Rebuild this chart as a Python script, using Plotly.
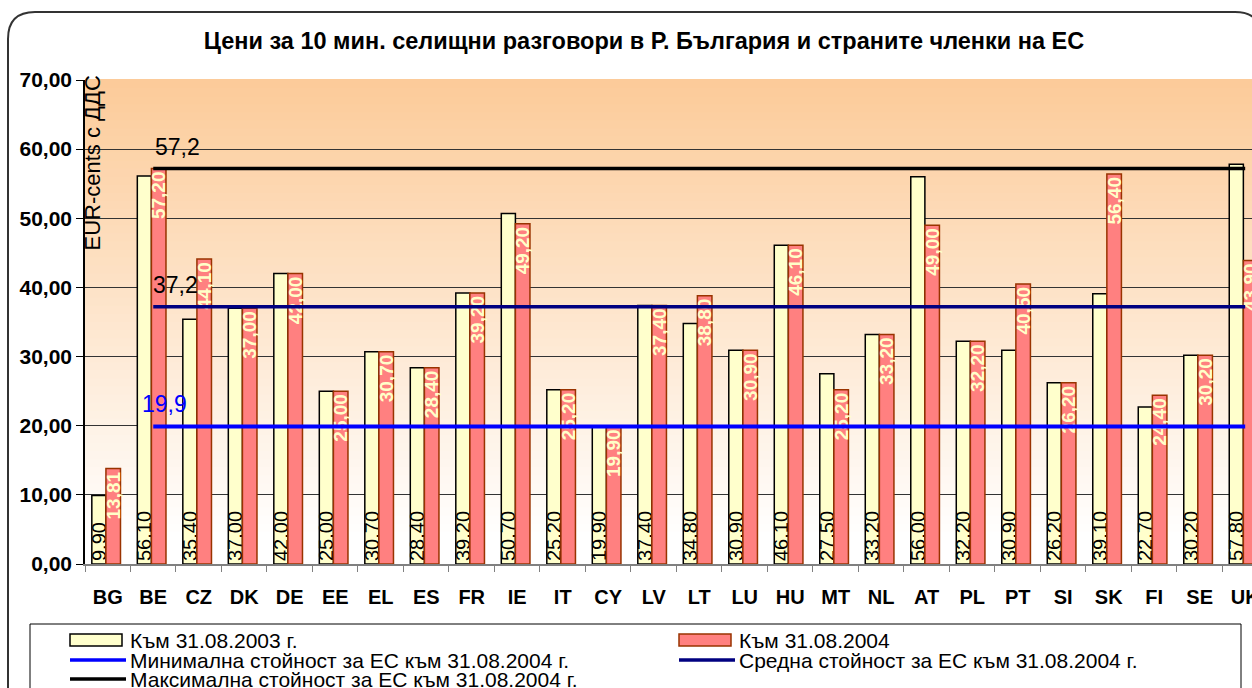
import plotly.graph_objects as go

countries = ["BG", "BE", "CZ", "DK", "DE", "EE", "EL", "ES", "FR", "IE", "IT", "CY", "LV",
             "LT", "LU", "HU", "MT", "NL", "AT", "PL", "PT", "SI", "SK", "FI", "SE", "UK"]
price_2003 = [9.90, 56.10, 35.40, 37.00, 42.00, 25.00, 30.70, 28.40, 39.20, 50.70, 25.20, 19.90, 37.40,
              34.80, 30.90, 46.10, 27.50, 33.20, 56.00, 32.20, 30.90, 26.20, 39.10, 22.70, 30.20, 57.80]
price_2004 = [13.81, 57.20, 44.10, 37.00, 42.00, 25.00, 30.70, 28.40, 39.20, 49.20, 25.20, 19.90, 37.40,
              38.80, 30.90, 46.10, 25.20, 33.20, 49.00, 32.20, 40.50, 26.20, 56.40, 24.40, 30.20, 43.90]
eu_min = 19.9
eu_avg = 37.2
eu_max = 57.2
ref_labels = ["19,9", "37,2", "57,2"]

title = "Цени за 10 мин. селищни разговори в Р. България и страните членки на ЕС"
y_title = "EUR-cents с ДДС"
names = ["Към 31.08.2003 г.", "Към 31.08.2004",
         "Минимална стойност за ЕС към 31.08.2004 г.",
         "Средна стойност за ЕС към 31.08.2004 г.",
         "Максимална стойност за ЕС към 31.08.2004 г."]

FONT = "Arial, Liberation Sans, sans-serif"
W, H = 1252, 688
L, R, T, B = 85, 1252, 80, 564

YELLOW = "#FFFFCC"
RED = "#FF8080"
RED_EDGE = "#993300"
MIN_C, AVG_C, MAX_C = "#0000FF", "#000080", "black"


def px_x(px):
    return (px - L) / (R - L)


def px_y(py):
    return (B - py) / (B - T)


fig = go.Figure()

fig.add_trace(go.Bar(
    x=countries, y=price_2003, name=names[0],
    marker=dict(color=YELLOW, line=dict(color="black", width=1.5)),
    offset=-0.35, width=0.31,
    texttemplate="%{y:.2f}", textposition="inside", insidetextanchor="start",
    textangle=-90, constraintext="none",
    textfont=dict(family=FONT, size=20, color="black"),
))
fig.add_trace(go.Bar(
    x=countries, y=price_2004, name=names[1],
    marker=dict(color=RED, line=dict(color=RED_EDGE, width=1.5)),
    offset=-0.04, width=0.32,
    texttemplate="<b>%{y:.2f}</b>", textposition="inside", insidetextanchor="end",
    textangle=-90, constraintext="none",
    textfont=dict(family=FONT, size=19, color="#FFFFC8"),
))

# reference lines from BE to UK, like in the original
line_x = countries[1:]
for val, color, name, lw in [(eu_min, MIN_C, names[2], 4),
                             (eu_avg, AVG_C, names[3], 3.5),
                             (eu_max, MAX_C, names[4], 3.5)]:
    fig.add_trace(go.Scatter(x=line_x, y=[val] * len(line_x), name=name, mode="lines",
                             line=dict(color=color, width=lw)))

for val, lab, color, xs in zip([eu_min, eu_avg, eu_max], ref_labels,
                               [MIN_C, "black", "black"], [-13, -2, 0]):
    fig.add_annotation(x=countries[1], y=val, text=lab, showarrow=False,
                       xanchor="left", yanchor="bottom", xshift=xs, yshift=7,
                       font=dict(family=FONT, size=23, color=color))

# plot background gradient (orange top -> white)
top_col = (252, 203, 153)
n = 60
for i in range(n):
    f0 = i / n
    f1 = (i + 1) / n
    t = (f0 + f1) / 2
    k = max(0.0, (t - 0.05) / 0.95)
    c = tuple(round(255 + (tc - 255) * k) for tc in top_col)
    fig.add_shape(type="rect", xref="paper", yref="paper", x0=0, x1=1, y0=f0, y1=f1 + 0.002,
                  fillcolor=f"rgb{c}", line_width=0, layer="below")

# outer rounded chart border
x0, y0, x1, y1 = px_x(8), px_y(12), px_x(1262), px_y(720)
rx = 27 / (R - L)
ry = 27 / (B - T)
fig.add_shape(type="path", xref="paper", yref="paper",
              path=(f"M {x0+rx} {y0} L {x1-rx} {y0} Q {x1} {y0} {x1} {y0-ry} "
                    f"L {x1} {y1+ry} Q {x1} {y1} {x1-rx} {y1} L {x0+rx} {y1} "
                    f"Q {x0} {y1} {x0} {y1+ry} L {x0} {y0-ry} Q {x0} {y0} {x0+rx} {y0} Z"),
              line=dict(color="#333333", width=2), layer="below")

fig.add_annotation(xref="paper", yref="paper", x=px_x(92), y=px_y(74), text=y_title,
                   textangle=-90, showarrow=False, xanchor="center", yanchor="top",
                   font=dict(family=FONT, size=22, color="black"))

# legend drawn by hand: box, swatches and texts
fig.add_shape(type="rect", xref="paper", yref="paper",
              x0=px_x(30), x1=px_x(1241), y0=px_y(624), y1=px_y(700),
              line=dict(color="black", width=1), fillcolor="white")
legend_items = [
    (names[0], "bar", YELLOW, "black", 70, 640),
    (names[1], "bar", RED, RED_EDGE, 679, 640),
    (names[2], "line", MIN_C, None, 70, 660),
    (names[3], "line", AVG_C, None, 679, 660),
    (names[4], "line", MAX_C, None, 70, 679),
]
for name, kind, col, edge, lx, ly in legend_items:
    if kind == "bar":
        fig.add_shape(type="rect", xref="paper", yref="paper",
                      x0=px_x(lx), x1=px_x(lx + 52), y0=px_y(ly - 6), y1=px_y(ly + 6),
                      fillcolor=col, line=dict(color=edge, width=1.5))
    else:
        fig.add_shape(type="line", xref="paper", yref="paper",
                      x0=px_x(lx), x1=px_x(lx + 56), y0=px_y(ly), y1=px_y(ly),
                      line=dict(color=col, width=3.5))
    fig.add_annotation(xref="paper", yref="paper", x=px_x(lx + 59), y=px_y(ly), text=name,
                       showarrow=False, xanchor="left", yanchor="middle", borderpad=0,
                       font=dict(family=FONT, size=21, color="black"))

fig.update_layout(
    width=W, height=H,
    margin=dict(l=L, r=W - R, t=T, b=H - B, autoexpand=False),
    paper_bgcolor="white", plot_bgcolor="rgba(0,0,0,0)",
    separators=", ",
    barmode="overlay",
    showlegend=False,
    title=dict(text=f"<b>{title}</b>", x=px_x(644), xref="paper", xanchor="center",
               y=1 - 41 / H, yanchor="middle", font=dict(family=FONT, size=23.5, color="black")),
)

fig.update_xaxes(type="category", range=[-0.5, 25.15], showline=True, linecolor="#808080",
                 linewidth=1.5, ticks="outside", tickson="boundaries", ticklen=6,
                 tickcolor="#808080", showgrid=False, automargin=False,
                 tickfont=dict(family=FONT, size=20, color="black"), ticklabelstandoff=14,
                 tickprefix="<b>", ticksuffix="</b>")
fig.update_yaxes(range=[0, 70], dtick=10, tickformat=".2f", showline=True, linecolor="black",
                 linewidth=1.5, ticks="outside", ticklen=7, tickcolor="black",
                 showgrid=True, gridcolor="#333333", gridwidth=1, zeroline=False, automargin=False,
                 tickprefix="<b>", ticksuffix="</b>",
                 tickfont=dict(family=FONT, size=21, color="black"))

# the page has an 8px body margin by default; drop it so the figure fills the window
fig.write_html("out.html", config={"displayModeBar": False},
               post_script="document.body.style.margin='0';")
